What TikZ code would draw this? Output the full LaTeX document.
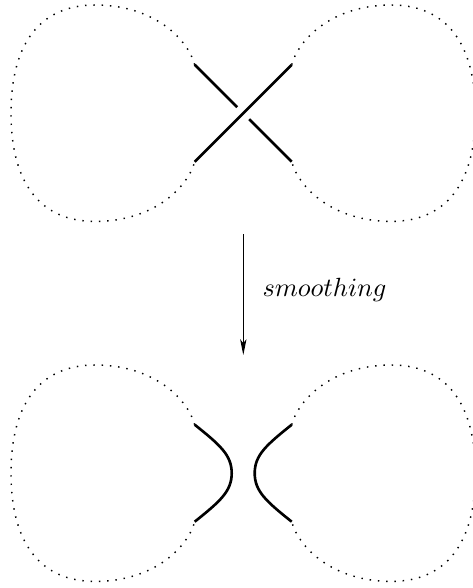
\documentclass[tikz,border=0pt]{standalone}
\usetikzlibrary{arrows.meta}
\tikzset{
  dotloop/.style={line width=0.55pt, dash pattern=on 0.55pt off 2.6pt},
  strand/.style={line width=1pt},
  mapsto/.style={line width=0.4pt, -{Stealth[length=6pt,width=2.4pt,inset=1.5pt]}},
}
\begin{document}
\begin{tikzpicture}[x=0.38pt,y=-0.38pt]
\useasboundingbox (0,0) rectangle (473,588);
\clip (0,0) rectangle (473,588);
% dotted loops, top and bottom
\foreach \s in {0,360}{
  \begin{scope}[shift={(0,\s)}]
    \draw[dotloop] (194.7,64.7) .. controls (188,40) and (155,5) .. (95,5)
      .. controls (40.4,5) and (11,43) .. (11,113.2)
      .. controls (11,183.4) and (40.4,221.4) .. (95,221.4)
      .. controls (155,221.4) and (188,186.4) .. (194.7,161.7);
    \draw[dotloop] (291.7,64.7) .. controls (298.4,40) and (331.4,5) .. (391.4,5)
      .. controls (446,5) and (475.4,43) .. (475.4,113.2)
      .. controls (475.4,183.4) and (446,221.4) .. (391.4,221.4)
      .. controls (331.4,221.4) and (298.4,186.4) .. (291.7,161.7);
  \end{scope}
}
% crossing
\draw[strand] (194.7,161.7) -- (291.7,64.7);
\draw[strand] (194.7,64.7) -- (237.2,107.2);
\draw[strand] (249.2,119.2) -- (291.7,161.7);
% smoothed strands
\draw[strand] (194.7,424.7) .. controls (220,445) and (231.7,455) .. (231.7,473.2)
  .. controls (231.7,491.4) and (220,501.4) .. (194.7,521.7);
\draw[strand] (291.7,424.7) .. controls (266.4,445) and (254.7,455) .. (254.7,473.2)
  .. controls (254.7,491.4) and (266.4,501.4) .. (291.7,521.7);
% arrow and label
\coordinate (from) at (243.3,234);
\coordinate (to) at (243.3,355);
\draw[mapsto] (from) -- (to);
\node[anchor=base west, inner sep=0pt] (lbl) at (262,296) {$smoothing$};
\end{tikzpicture}
\end{document}
